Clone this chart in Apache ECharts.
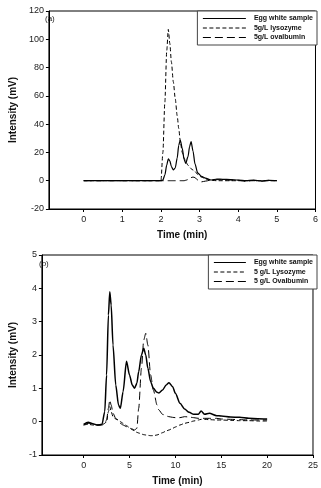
<!DOCTYPE html>
<html lang="en">
<head>
    <meta charset="UTF-8">
    <title>Egg white chromatograms</title>
    <style>
        html, body { margin: 0; padding: 0; background: #fff; }
        #chart { width: 321px; height: 488px; }
    </style>
</head>
<body>
<div id="chart"></div>

<script src="https://cdn.jsdelivr.net/npm/echarts@6/dist/echarts.min.js"></script>
<script>
    // panel (a)
    var aTime = [0, 0.5, 1, 1.5, 2.0, 2.05, 2.1, 2.15, 2.19, 2.23, 2.27, 2.32, 2.37, 2.42, 2.46, 2.5, 2.55, 2.6, 2.64, 2.7, 2.74, 2.78, 2.83, 2.88, 2.95, 3.05, 3.15, 3.3, 3.45, 3.6, 3.8, 4.0, 4.2, 4.4, 4.6, 4.8, 5.0];
    var aEgg = [0, 0, 0, 0, 0, 0.5, 4, 11, 15.5, 14, 10, 7.6, 9, 16, 25, 28.8, 23, 15, 12.3, 17, 24, 27.6, 21, 12, 5.5, 3, 1.8, 0.5, 1.2, 1, 0.8, 0.5, 0, 0.4, -0.2, 0.2, 0];
    var aLys = [0, 0, 0, 0, 0, 20, 55, 92, 107, 97, 84, 70, 58, 46, 37, 28, 20, 16, 13.5, 11, 9.5, 8.5, 7.5, 6.5, 4.5, 2.5, 1.3, 0.3, 0, 0, 0, 0, 0, 0, 0, 0, 0];
    var aOva = [0, 0, 0, 0, 0, 0, 0, 0, 0, 0, 0, 0, 0, 0, 0, 0, 0, 0, 0.3, 0.8, 1.5, 2.2, 2.6, 2.2, 0.5, -0.8, -0.3, 0.5, 0.8, 0.6, 0.5, 0.3, -0.5, 0.2, -0.4, 0.3, 0];
    var aXTicks = [0, 1, 2, 3, 4, 5, 6];
    var aLegend = ['Egg white sample', '5g/L lysozyme', '5g/L ovalbumin'];

    // panel (b)
    var bTime = [0, 0.5, 1, 1.5, 2, 2.3, 2.5, 2.7, 2.85, 3.0, 3.2, 3.5, 3.8, 4.0, 4.3, 4.67, 5.0, 5.3, 5.55, 5.8, 6.0, 6.3, 6.55, 6.77, 7.0, 7.3, 7.6, 8.0, 8.2, 8.6, 9.0, 9.3, 9.7, 10.0, 10.5, 11, 11.5, 12, 12.5, 12.8, 13.2, 13.7, 14.5, 15, 16, 17, 18, 19, 20];
    var bEgg = [-0.08, -0.02, -0.06, -0.1, -0.08, 0.3, 1.4, 3.2, 3.9, 3.5, 2.3, 1.1, 0.5, 0.4, 0.9, 1.81, 1.4, 1.1, 1.0, 1.15, 1.5, 2.0, 2.2, 2.0, 1.6, 1.2, 1.0, 0.88, 0.86, 0.95, 1.1, 1.17, 1.05, 0.85, 0.55, 0.38, 0.28, 0.22, 0.22, 0.32, 0.22, 0.25, 0.18, 0.17, 0.14, 0.13, 0.1, 0.09, 0.08];
    var bLys = [-0.1, -0.08, -0.1, -0.1, -0.1, -0.05, 0.0, 0.3, 0.45, 0.3, 0.15, 0.08, 0.05, 0.0, -0.05, -0.12, -0.18, -0.24, -0.28, -0.32, -0.34, -0.37, -0.39, -0.4, -0.41, -0.42, -0.42, -0.4, -0.38, -0.33, -0.28, -0.25, -0.2, -0.16, -0.1, -0.05, -0.02, 0.02, 0.05, 0.07, 0.07, 0.06, 0.05, 0.05, 0.04, 0.03, 0.03, 0.02, 0.02];
    var bOva = [-0.1, -0.05, -0.08, -0.1, -0.1, -0.05, 0.05, 0.4, 0.65, 0.5, 0.25, 0.1, 0.0, -0.05, -0.1, -0.15, -0.2, -0.22, -0.25, -0.2, 0.4, 1.6, 2.45, 2.65, 2.3, 1.4, 0.95, 0.5, 0.35, 0.22, 0.17, 0.15, 0.13, 0.12, 0.12, 0.15, 0.14, 0.12, 0.1, 0.1, 0.1, 0.1, 0.1, 0.08, 0.07, 0.06, 0.05, 0.05, 0.05];
    var bXTicks = [0, 5, 10, 15, 20, 25];
    var bLegend = ['Egg white sample', '5 g/L Lysozyme', '5 g/L Ovalbumin'];

    function pairs(xs, ys) {
        return xs.map(function (x, i) { return [x, ys[i]]; });
    }

    var font = 'Liberation Sans, Arial, sans-serif';
    var nameStyle = { fontSize: 10, fontWeight: 'bold', color: '#111', fontFamily: font };

    function xAxis(idx, min, max, ticks) {
        return {
            type: 'value', gridIndex: idx, min: min, max: max,
            name: 'Time (min)', nameLocation: 'middle', nameGap: 21, nameTextStyle: nameStyle,
            axisLine: { onZero: false, lineStyle: { color: '#000', width: 1 } },
            axisTick: { show: true, length: 3, customValues: ticks, lineStyle: { color: '#000' } },
            axisLabel: { customValues: ticks, margin: 6, fontSize: 9, color: '#222', fontFamily: font },
            splitLine: { show: false }
        };
    }
    function yAxis(idx, min, max, step, gap) {
        return {
            type: 'value', gridIndex: idx, min: min, max: max, interval: step,
            name: 'Intensity (mV)', nameLocation: 'middle', nameGap: gap, nameTextStyle: nameStyle,
            axisLine: { show: true, onZero: false, lineStyle: { color: '#000', width: 1 } },
            axisTick: { show: true, length: 3, lineStyle: { color: '#000' } },
            axisLabel: { margin: 5, fontSize: 9, color: '#222', fontFamily: font },
            splitLine: { show: false }
        };
    }
    function line(name, idx, data, type, width) {
        return {
            name: name, type: 'line', xAxisIndex: idx, yAxisIndex: idx,
            data: data, symbol: 'none', showSymbol: false, smooth: 0.25, smoothMonotone: 'x',
            lineStyle: { color: '#000', width: width, type: type }
        };
    }
    function legend(names, iconW, top) {
        return {
            data: names, orient: 'vertical', right: 4, top: top, align: 'left',
            itemWidth: iconW, itemHeight: 6, itemGap: 2.5,
            padding: [4, 4, 4, 5], borderColor: '#444', borderWidth: 1, backgroundColor: '#fff',
            itemStyle: { color: 'transparent', borderWidth: 0, opacity: 0 },
            lineStyle: { width: 1, color: '#000' },
            textStyle: { fontSize: 7, fontWeight: 'bold', color: '#111', fontFamily: font, padding: [0, 0, 0, 3] },
            selectedMode: false
        };
    }

    var myChart = echarts.init(document.getElementById('chart'));
    var option = {
        animation: false,
        backgroundColor: '#fff',
        grid: [
            { left: 42, right: 4, top: 11, height: 198, show: true, borderColor: '#000', borderWidth: 1 },
            { left: 36, right: 4, top: 255, height: 200, show: true, borderColor: '#000', borderWidth: 1 }
        ],
        xAxis: [xAxis(0, -0.9, 6, aXTicks), xAxis(1, -4.55, 25, bXTicks)],
        yAxis: [yAxis(0, -20, 120, 20, 27), yAxis(1, -1, 5, 1, 21)],
        legend: [legend(aLegend, 43, 11), legend(bLegend, 32, 255)],
        graphic: [
            { type: 'text', left: 45, top: 15, style: { text: '(a)', fontSize: 8, fill: '#222', fontFamily: font } },
            { type: 'text', left: 39, top: 260, style: { text: '(b)', fontSize: 8, fill: '#222', fontFamily: font } }
        ],
        series: [
            line(aLegend[0], 0, pairs(aTime, aEgg), 'solid', 1.2),
            line(aLegend[1], 0, pairs(aTime, aLys), [4, 2.5], 1),
            line(aLegend[2], 0, pairs(aTime, aOva), [8, 4], 1),
            line(bLegend[0], 1, pairs(bTime, bEgg), 'solid', 1.5),
            line(bLegend[1], 1, pairs(bTime, bLys), [4, 2.5], 1),
            line(bLegend[2], 1, pairs(bTime, bOva), [8, 4], 1)
        ]
    };
    myChart.setOption(option);
</script>
</body>
</html>
